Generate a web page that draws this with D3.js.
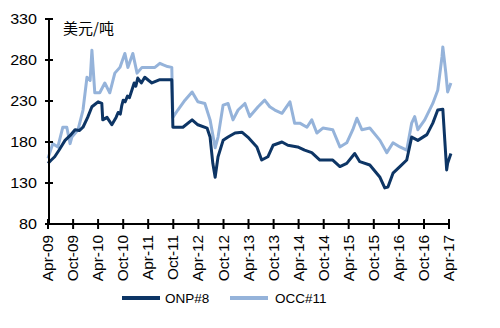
<!DOCTYPE html>
<html><head><meta charset="utf-8">
<script src="https://cdn.jsdelivr.net/npm/d3@7/dist/d3.min.js"></script>
<style>body{margin:0;background:#fff}svg{display:block}text{font-family:Arial,"Liberation Sans",sans-serif;fill:#000}</style>
</head><body>
<svg id="c" width="500" height="328"></svg>
<script>
const unitLabel = "美元/吨";
const seriesNames = ["ONP#8", "OCC#11"];
const yTicks = [80, 130, 180, 230, 280, 330];
const xTickLabels = ["Apr-09","Oct-09","Apr-10","Oct-10","Apr-11","Oct-11","Apr-12","Oct-12","Apr-13","Oct-13","Apr-14","Oct-14","Apr-15","Oct-15","Apr-16","Oct-16","Apr-17"];

const onpDates = ["2009-04-01","2009-04-25","2009-05-20","2009-06-20","2009-08-03","2009-09-10","2009-10-15","2009-11-15","2009-12-12","2010-01-15","2010-02-15","2010-03-10","2010-04-01","2010-04-28","2010-05-05","2010-06-05","2010-07-10","2010-08-10","2010-08-25","2010-09-10","2010-09-20","2010-10-01","2010-10-15","2010-11-01","2010-11-15","2010-12-03","2010-12-20","2011-01-01","2011-01-15","2011-02-10","2011-03-07","2011-04-05","2011-04-28","2011-06-25","2011-09-20","2011-09-28","2011-12-10","2012-02-15","2012-03-28","2012-06-03","2012-06-25","2012-07-15","2012-08-01","2012-08-22","2012-09-28","2012-11-03","2012-12-24","2013-02-12","2013-03-27","2013-06-01","2013-07-06","2013-08-20","2013-09-27","2013-12-01","2014-01-13","2014-03-25","2014-05-15","2014-07-06","2014-09-03","2014-12-06","2015-01-27","2015-03-18","2015-05-15","2015-06-21","2015-09-02","2015-11-15","2015-12-20","2016-01-12","2016-02-18","2016-04-08","2016-05-28","2016-07-03","2016-08-17","2016-10-22","2016-12-04","2017-01-09","2017-02-15","2017-03-15","2017-03-22","2017-04-15"];
const onpValues = [154,158,162,170,182,188,195,194,198,210,223,226,229,227,207,210,201,210,216,214,224,231,229,236,234,243,252,248,258,252,259,255,252,256,256,198,198,207,201,197,186,154,137,162,182,186,191,192,186,174,158,162,176,180,176,174,170,167,158,158,150,154,166,156,152,137,124,125,142,150,158,186,182,189,203,219,220,146,154,166];

const occDates = ["2009-04-01","2009-05-06","2009-06-12","2009-07-18","2009-08-16","2009-09-09","2009-09-22","2009-11-06","2009-12-12","2010-01-10","2010-02-02","2010-02-15","2010-03-08","2010-04-13","2010-05-20","2010-06-25","2010-08-01","2010-09-07","2010-10-13","2010-11-04","2010-12-10","2011-01-10","2011-02-15","2011-03-28","2011-05-20","2011-06-25","2011-07-20","2011-08-20","2011-09-20","2011-09-28","2011-11-03","2011-12-25","2012-02-15","2012-03-28","2012-05-18","2012-06-25","2012-08-01","2012-08-22","2012-09-28","2012-11-03","2012-12-09","2013-01-15","2013-03-06","2013-04-10","2013-06-10","2013-07-28","2013-09-03","2013-10-10","2013-12-01","2014-01-28","2014-03-03","2014-04-10","2014-06-01","2014-07-06","2014-08-12","2014-09-25","2014-12-06","2015-01-27","2015-03-18","2015-05-01","2015-05-31","2015-07-06","2015-09-02","2015-11-15","2016-01-04","2016-02-18","2016-04-08","2016-05-28","2016-07-03","2016-07-25","2016-08-17","2016-10-06","2016-12-04","2017-01-09","2017-02-09","2017-02-15","2017-03-09","2017-03-22","2017-04-15"];
const occValues = [160,178,174,198,198,178,186,195,219,259,255,292,240,240,252,240,264,271,288,271,288,264,271,271,271,276,274,272,271,210,219,231,241,229,227,207,173,186,225,227,207,219,227,211,223,231,223,219,215,229,203,203,198,207,191,197,195,174,179,195,209,195,197,182,167,179,174,170,203,211,195,207,227,243,284,296,264,241,252];

const svg = d3.select("#c");
const parse = d3.timeParse("%Y-%m-%d");
const x = d3.scaleTime().domain([parse("2009-04-01"), parse("2017-04-01")]).range([48, 449]);
const y = d3.scaleLinear().domain([80, 330]).range([224, 19]);

const tickDates = d3.range(xTickLabels.length).map(i => d3.timeMonth.offset(parse("2009-04-01"), i * 6));

// lines
const line = d3.line().x(d => x(d[0])).y(d => y(d[1]));
const onp = onpDates.map((d, i) => [parse(d), onpValues[i]]);
const occ = occDates.map((d, i) => [parse(d), occValues[i]]);
const colors = ["#0d3565", "#95b3da"];
svg.append("path").datum(occ).attr("d", line).attr("fill", "none").attr("stroke", colors[1]).attr("stroke-width", 3).attr("stroke-linejoin", "round");
svg.append("path").datum(onp).attr("d", line).attr("fill", "none").attr("stroke", colors[0]).attr("stroke-width", 3).attr("stroke-linejoin", "round");

// y axis
const ya = svg.append("g").attr("transform", "translate(49,0)");
ya.append("line").attr("y1", y(330)).attr("y2", y(80)).attr("stroke", "#000").attr("stroke-width", 2);
yTicks.forEach(v => {
  ya.append("line").attr("x1", -4).attr("x2", 4).attr("y1", y(v)).attr("y2", y(v)).attr("stroke", "#000").attr("stroke-width", 2);
  ya.append("text").attr("x", 0).attr("y", 0).attr("transform", `translate(-12,${y(v) + 5}) scale(1.15,1)`)
    .attr("text-anchor", "end").attr("font-size", 14).text(v);
});

// x axis
const xa = svg.append("g").attr("transform", `translate(0,${y(80)})`);
xa.append("line").attr("x1", 48).attr("x2", 450).attr("stroke", "#000").attr("stroke-width", 2);
tickDates.forEach((d, i) => {
  xa.append("line").attr("x1", x(d)).attr("x2", x(d)).attr("y1", -5).attr("y2", 5).attr("stroke", "#000").attr("stroke-width", 2);
  xa.append("text").attr("transform", `translate(${x(d) + 5},11) rotate(-90) scale(1.1,1)`)
    .attr("text-anchor", "end").attr("font-size", 14).text(xTickLabels[i]);
});

// unit
svg.append("text").attr("x", 63).attr("y", 34).attr("font-size", 15)
  .style("font-family", "'Noto Sans CJK SC',sans-serif").text(unitLabel);

// legend
const lg = [{x: 122, t: 165}, {x: 230, t: 275}];
seriesNames.forEach((n, i) => {
  svg.append("line").attr("x1", lg[i].x).attr("x2", lg[i].x + 38).attr("y1", 298).attr("y2", 298).attr("stroke", colors[i]).attr("stroke-width", 4);
  svg.append("text").attr("x", lg[i].t).attr("y", 303).attr("font-size", 13.5).text(n);
});
</script>
</body></html>
